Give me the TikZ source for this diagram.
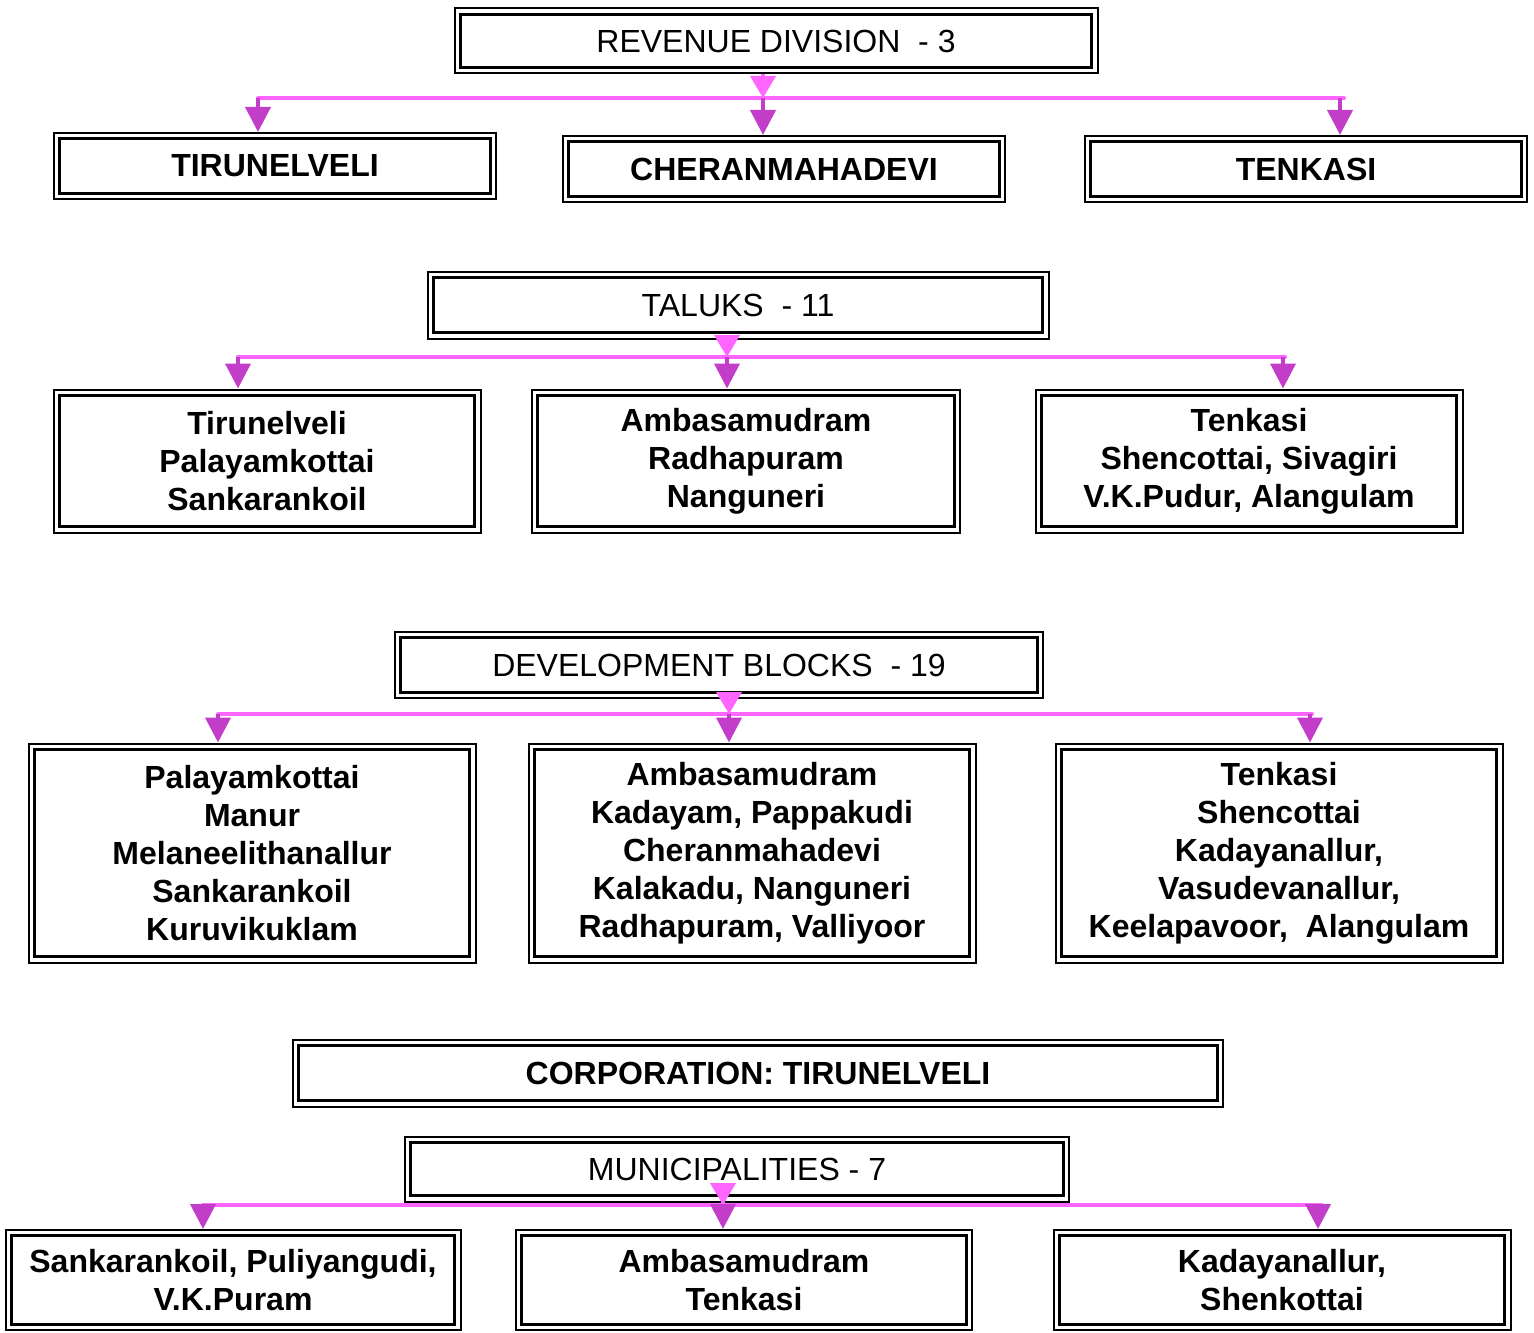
\documentclass[tikz,border=0pt]{standalone}
\usepackage{fontspec}
\setmainfont{Liberation Sans}
\usetikzlibrary{arrows.meta,positioning}
\definecolor{barpink}{HTML}{FF66FF}
\definecolor{tipmagenta}{HTML}{C23DC8}

\begin{document}
\begin{tikzpicture}[
		x=0.5pt, y=-0.5pt,
		every node/.style={font=\fontsize{16}{19}\selectfont, align=center, inner sep=0pt},
		% Stijlen
		frame/.style={draw=black, line width=1pt,
			path picture={\draw[line width=1.5pt]
				([shift={(2.8pt,-2.8pt)}]path picture bounding box.north west) rectangle
				([shift={(-2.8pt,2.8pt)}]path picture bounding box.south east);}},
		boxsize/.style 2 args={minimum width=#1, minimum height=#2},
		head/.style={frame},
		unit/.style={frame, font=\fontsize{16}{19}\selectfont\bfseries},
		bar/.style={line width=2pt, barpink, line cap=round},
		split/.style={-{Triangle[width=12.5pt,length=11pt]}, line width=2pt, barpink},
		feed/.style={-{Triangle[width=12.5pt,length=12.5pt]}, line width=2pt, tipmagenta}
	]

	\useasboundingbox (0,0) rectangle (1534,1332);

	% --- 1. REVENUE DIVISION ---
	\node[head, boxsize={321.5pt}{32.5pt}] (rev) at (776,41) {REVENUE DIVISION~~- 3};
	\node[unit, boxsize={221pt}{33pt}] (tir) at (275,166) {TIRUNELVELI};
	\node[unit, boxsize={221pt}{33pt}] (che) at (784,169) {CHERANMAHADEVI};
	\node[unit, boxsize={221pt}{33pt}] (ten) at (1306,169) {TENKASI};

	\coordinate (j1) at (763,98);
	\coordinate (a1) at (258,98);
	\coordinate (c1) at (1340,98);
	\draw[bar] (a1) -- ([xshift=2pt]c1);
	\draw[split] (rev.south -| j1) -- (j1);
	\foreach \c/\n in {a1/tir, j1/che, c1/ten}
		\draw[feed] (\c) -- (\c |- \n.north);

	% --- 2. TALUKS ---
	\node[head, boxsize={310.5pt}{33.5pt}] (tal) at (738,305) {TALUKS~~- 11};
	\node[unit, boxsize={213.5pt}{71.5pt}] (tk1) at (267,461) {Tirunelveli\\Palayamkottai\\Sankarankoil};
	\node[unit, boxsize={214pt}{71.5pt}] (tk2) at (746,461) {Ambasamudram\\Radhapuram\\Nanguneri};
	\node[unit, boxsize={213.5pt}{71.5pt}] (tk3) at (1249,461) {Tenkasi\\Shencottai, Sivagiri\\V.K.Pudur, Alangulam};

	\coordinate (j2) at (727,357);
	\coordinate (a2) at (238,357);
	\coordinate (c2) at (1283,357);
	\draw[bar] (a2) -- ([xshift=1pt]c2);
	\draw[split] (tal.south -| j2) -- (j2);
	\foreach \c/\n in {a2/tk1, j2/tk2, c2/tk3}
		\draw[feed] (\c) -- (\c |- \n.north);

	% --- 3. DEVELOPMENT BLOCKS ---
	\node[head, boxsize={324pt}{33pt}] (dev) at (719,665) {DEVELOPMENT BLOCKS~~- 19};
	\node[unit, boxsize={223.5pt}{109.5pt}] (bl1) at (252,853) {Palayamkottai\\Manur\\Melaneelithanallur\\Sankarankoil\\Kuruvikuklam};
	\node[unit, boxsize={223.5pt}{109.5pt}] (bl2) at (752,853) {Ambasamudram\\Kadayam, Pappakudi\\Cheranmahadevi\\Kalakadu, Nanguneri\\Radhapuram, Valliyoor};
	\node[unit, boxsize={223.5pt}{109.5pt}] (bl3) at (1279,853) {Tenkasi\\Shencottai\\Kadayanallur,\\Vasudevanallur,\\Keelapavoor,~~Alangulam};

	\coordinate (j3) at (729,714);
	\coordinate (a3) at (218,714);
	\coordinate (c3) at (1310,714);
	\draw[bar] (a3) -- ([xshift=1pt]c3);
	\draw[split] (dev.south -| j3) -- (j3);
	\foreach \c/\n in {a3/bl1, j3/bl2, c3/bl3}
		\draw[feed] (\c) -- (\c |- \n.north);

	% --- 4. CORPORATION ---
	\node[unit, boxsize={465pt}{33.5pt}] (cor) at (758,1073) {CORPORATION: TIRUNELVELI};

	% --- 5. MUNICIPALITIES ---
	\node[head, boxsize={332pt}{32.5pt}] (mun) at (737,1169) {MUNICIPALITIES - 7};
	\node[unit, boxsize={227.5pt}{50pt}] (mu1) at (233,1280) {Sankarankoil, Puliyangudi,\\V.K.Puram};
	\node[unit, boxsize={228pt}{50pt}] (mu2) at (744,1280) {Ambasamudram\\Tenkasi};
	\node[unit, boxsize={228.5pt}{50pt}] (mu3) at (1282,1280) {Kadayanallur,\\Shenkottai};

	\coordinate (j5) at (723,1205);
	\coordinate (a5) at (203,1205);
	\coordinate (c5) at (1318,1205);
	\draw[bar] (a5) -- ([xshift=2pt]c5);
	\draw[split] (mun.south -| j5) -- (j5);
	\foreach \c/\n in {a5/mu1, j5/mu2, c5/mu3}
		\draw[feed] (\c) -- (\c |- \n.north);

\end{tikzpicture}
\end{document}
